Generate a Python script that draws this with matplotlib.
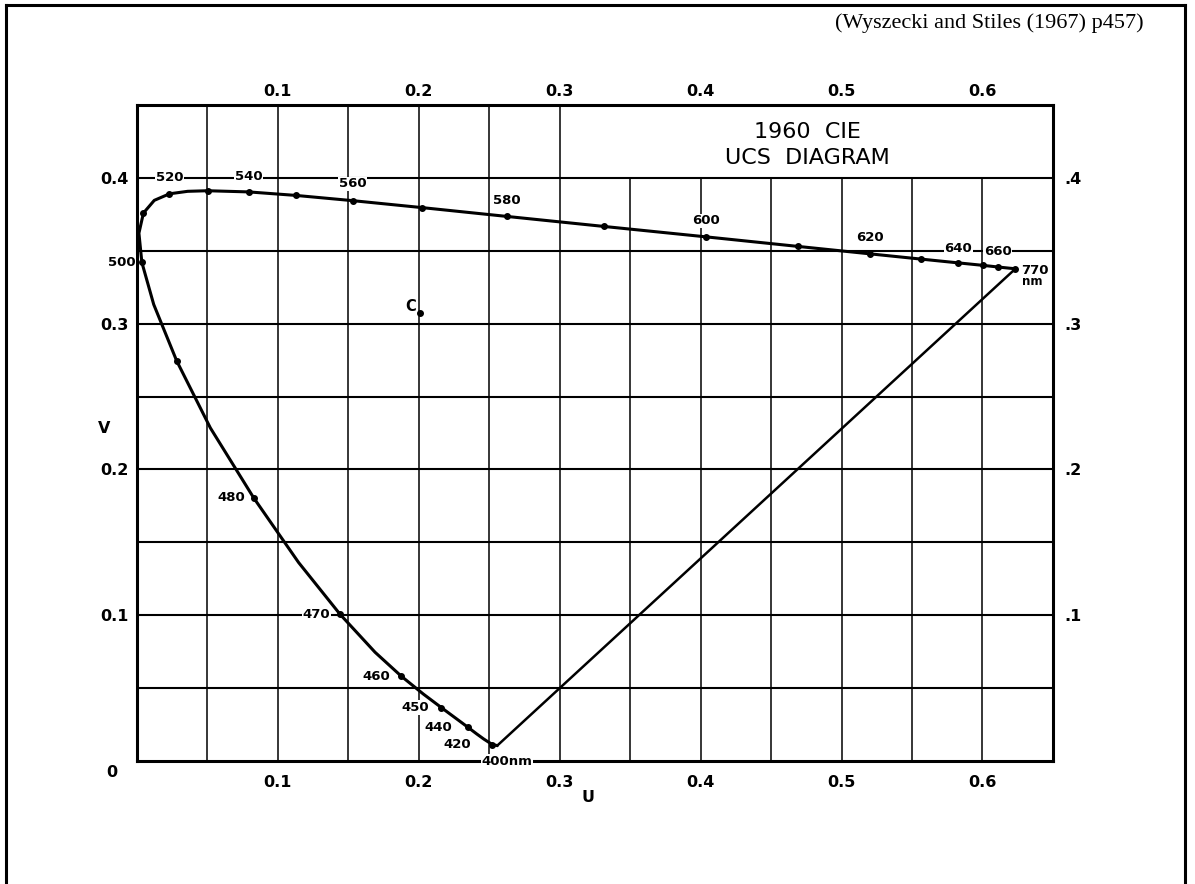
import numpy as np
import matplotlib.pyplot as plt
from matplotlib.lines import Line2D

# spectral locus, CIE 1960 (u, v)
locus_nm = [400, 420, 430, 435, 440, 445, 450, 455, 460, 465, 470, 475, 480, 485, 490,
            495, 500, 505, 510, 515, 520, 525, 530, 540, 550, 560, 570, 580, 590, 600,
            610, 620, 630, 640, 650, 660, 680, 770]
locus_u = [0.2557, 0.2522, 0.2461, 0.2411, 0.2347, 0.2266, 0.2161, 0.2033, 0.1877,
           0.1690, 0.1441, 0.1147, 0.0828, 0.0521, 0.0282, 0.0119, 0.0035, 0.0014,
           0.0046, 0.0123, 0.0231, 0.0360, 0.0501, 0.0792, 0.1127, 0.1531, 0.2026,
           0.2623, 0.3315, 0.4035, 0.4692, 0.5203, 0.5565, 0.5830, 0.6005, 0.6109,
           0.6199, 0.6234]
locus_v = [0.0106, 0.0113, 0.0151, 0.0186, 0.0233, 0.0291, 0.0366, 0.0459, 0.0581,
           0.0746, 0.1007, 0.1362, 0.1806, 0.2285, 0.2745, 0.3132, 0.3420, 0.3621,
           0.3759, 0.3846, 0.3891, 0.3908, 0.3912, 0.3904, 0.3880, 0.3844, 0.3796,
           0.3736, 0.3667, 0.3596, 0.3530, 0.3479, 0.3443, 0.3417, 0.3400, 0.3389,
           0.3380, 0.3377]

# wavelengths marked with a dot
dot_nm = [420, 440, 450, 460, 470, 480, 490, 500, 510, 520, 530, 540, 550, 560, 570,
          580, 590, 600, 610, 620, 630, 640, 650, 660, 770]

# wavelength labels above the upper branch
upper_labels = ["520", "540", "560", "580", "600", "620", "640", "660"]
upper_nm = [520, 540, 560, 580, 600, 620, 640, 660]
upper_dv = [0.0065, 0.006, 0.007, 0.0065, 0.0065, 0.0065, 0.0055, 0.0065]

# wavelength labels to the left of the lower branch
lower_labels = ["500", "480", "470", "460", "450", "440", "420"]
lower_nm = [500, 480, 470, 460, 450, 440, 420]
lower_du = [-0.0045, -0.006, -0.007, -0.008, -0.009, -0.011, -0.015]

illum_c = (0.2009, 0.3073)

u_ticks = [0.1, 0.2, 0.3, 0.4, 0.5, 0.6]
u_ticklabels = ["0.1", "0.2", "0.3", "0.4", "0.5", "0.6"]
v_ticks = [0.1, 0.2, 0.3, 0.4]
v_left_labels = ["0.1", "0.2", "0.3", "0.4"]
v_right_labels = [".1", ".2", ".3", ".4"]

plt.rcParams['font.family'] = ['DejaVu Sans']

fig = plt.figure(figsize=(11.95, 8.84), dpi=100)
ax = fig.add_axes([0.1146, 0.1391, 0.7665, 0.7421])
ax.set_xlim(0, 0.65)
ax.set_ylim(0, 0.45)

for s in ax.spines.values():
    s.set_linewidth(2.2)

# grid: upper right corner is left open for the title
for g in np.arange(0.05, 0.6001, 0.05):
    top = 0.45 if g < 0.32 else 0.4
    ax.plot([g, g], [0, top], color='black', lw=1.1, zorder=1)
for g in np.arange(0.05, 0.4001, 0.05):
    ax.plot([0, 0.65], [g, g], color='black', lw=1.5, zorder=1)

# locus and purple line
ax.plot(locus_u, locus_v, color='black', lw=2.2, zorder=4,
        solid_capstyle='round', solid_joinstyle='round')
ax.plot([locus_u[-1], locus_u[0]], [locus_v[-1], locus_v[0]], color='black', lw=1.8, zorder=4)

idx = {nm: i for i, nm in enumerate(locus_nm)}
ax.plot([locus_u[idx[n]] for n in dot_nm], [locus_v[idx[n]] for n in dot_nm],
        'o', color='black', ms=4, zorder=5)

box = dict(facecolor='white', edgecolor='none', pad=0.6)
lab_kw = dict(fontsize=9.5, fontweight='bold', zorder=3, bbox=box, clip_on=False)

for t, n, dv in zip(upper_labels, upper_nm, upper_dv):
    ax.text(locus_u[idx[n]], locus_v[idx[n]] + dv, t, ha='center', va='bottom', **lab_kw)

for t, n, du in zip(lower_labels, lower_nm, lower_du):
    ax.text(locus_u[idx[n]] + du, locus_v[idx[n]], t, ha='right', va='center', **lab_kw)

ax.text(0.2445, 0.0, "400nm", ha='left', va='center', **lab_kw)
ax.text(locus_u[-1] + 0.004, locus_v[-1] - 0.001, "770", ha='left', va='center',
        fontsize=9.5, fontweight='bold', zorder=3, clip_on=False)
ax.text(locus_u[-1] + 0.005, locus_v[-1] - 0.0085, "nm", ha='left', va='center',
        fontsize=8.5, fontweight='bold', zorder=3, clip_on=False)

# illuminant C
ax.plot(*illum_c, 'o', color='black', ms=4, zorder=5)
ax.text(illum_c[0] - 0.003, illum_c[1] - 0.0005, "C", ha='right', va='bottom',
        fontsize=10.5, fontweight='bold', zorder=3)

ax.text(0.476, 0.4315, "1960  CIE", ha='center', va='center', fontsize=16)
ax.text(0.476, 0.4135, "UCS  DIAGRAM", ha='center', va='center', fontsize=16)

# axis labelling
tick_font = dict(fontsize=11.5, fontweight='bold')
ax.set_xticks(u_ticks)
ax.set_xticklabels(u_ticklabels, **tick_font)
ax.set_yticks(v_ticks)
ax.set_yticklabels(v_left_labels, **tick_font)
ax.tick_params(axis='x', length=0, pad=10)
ax.tick_params(axis='y', length=0, pad=6)

top_ax = ax.secondary_xaxis('top')
top_ax.set_xticks(u_ticks)
top_ax.set_xticklabels(u_ticklabels, **tick_font)
top_ax.tick_params(length=0, pad=4)
top_ax.spines['top'].set_visible(False)

right_ax = ax.secondary_yaxis('right')
right_ax.set_yticks(v_ticks)
right_ax.set_yticklabels(v_right_labels, **tick_font)
right_ax.tick_params(length=0, pad=8)
right_ax.spines['right'].set_visible(False)

ax.text(-0.018, -0.008, "0", ha='center', va='center', clip_on=False, **tick_font)
ax.text(-0.023, 0.228, "V", ha='center', va='center', clip_on=False, **tick_font)
ax.text(0.320, -0.025, "U", ha='center', va='center', clip_on=False, **tick_font)

fig.text(0.957, 0.974, "(Wyszecki and Stiles (1967) p457)", ha='right', va='center',
         fontsize=16, family='Liberation Serif')

# page frame
for xs, ys in [([0.005, 0.005], [0.0, 0.994]), ([0.005, 0.992], [0.994, 0.994]),
               ([0.992, 0.992], [0.994, 0.0])]:
    fig.add_artist(Line2D(xs, ys, color='black', lw=2.2))

fig.savefig("out.png", dpi=100, facecolor='white')
